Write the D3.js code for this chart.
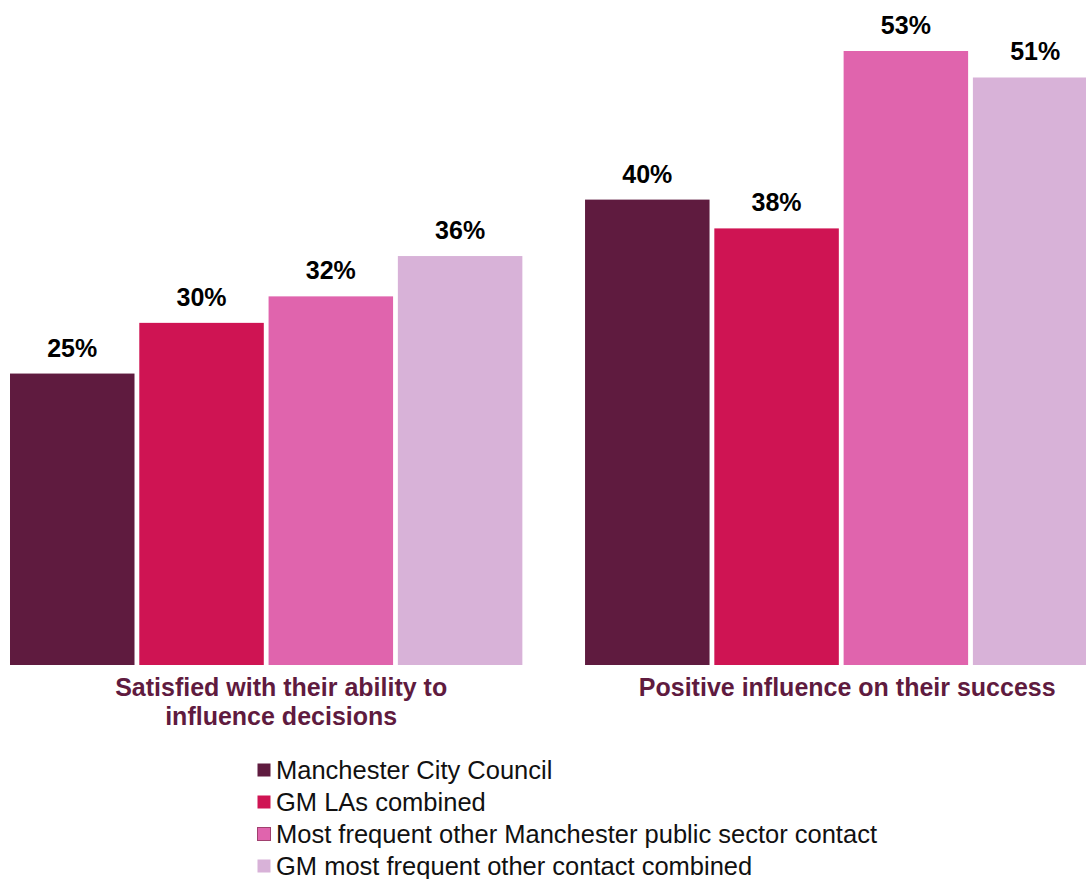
<!DOCTYPE html>
<html><head><meta charset="utf-8">
<script src="https://cdn.jsdelivr.net/npm/d3@7"></script>
<style>body{margin:0;background:#fff}svg{display:block}</style>
</head><body>
<svg id="chart" width="1086" height="879"></svg>
<script>
const categories = ["Satisfied with their ability to influence decisions", "Positive influence on their success"];
const categoryLines = [["Satisfied with their ability to", "influence decisions"], ["Positive influence on their success"]];
const seriesNames = ["Manchester City Council", "GM LAs combined", "Most frequent other Manchester public sector contact", "GM most frequent other contact combined"];
const mccValues = [25.3, 40.4];
const gmLaValues = [29.7, 37.9];
const mostFrequentValues = [32.0, 53.3];
const gmMostFrequentValues = [35.5, 51.0];
const seriesValues = [mccValues, gmLaValues, mostFrequentValues, gmMostFrequentValues];
const colors = ["#5f1b3f", "#cf1453", "#e064ad", "#d8b2d8"];

const svg = d3.select("#chart");
const baseline = 665;
const y = d3.scaleLinear().domain([0, 53.3]).range([baseline, 51]);
const x0 = d3.scaleBand().domain(categories).range([10, 1097.4]).paddingInner(0.109).paddingOuter(0);
const x1 = d3.scaleBand().domain(seriesNames).range([0, x0.bandwidth()]).paddingInner(0.037).paddingOuter(0);

const data = [];
categories.forEach((c, ci) => seriesNames.forEach((s, si) => data.push({c, ci, s, si, v: seriesValues[si][ci]})));

svg.append("g").selectAll("rect").data(data).join("rect")
  .attr("x", d => x0(d.c) + x1(d.s))
  .attr("y", d => y(d.v))
  .attr("width", x1.bandwidth())
  .attr("height", d => baseline - y(d.v))
  .attr("fill", d => colors[d.si]);

svg.append("g").selectAll("text").data(data).join("text")
  .attr("x", d => x0(d.c) + x1(d.s) + x1.bandwidth() / 2)
  .attr("y", d => y(d.v) - 17)
  .attr("text-anchor", "middle")
  .attr("font-family", "Liberation Sans, Arial, sans-serif")
  .attr("font-weight", "bold")
  .attr("font-size", 25)
  .attr("fill", "#000")
  .text(d => Math.round(d.v) + "%");

const catOffsets = [15, 6];
const cg = svg.append("g");
categories.forEach((c, ci) => {
  const cx = x0(c) + x0.bandwidth() / 2 + catOffsets[ci];
  const t = cg.append("text")
    .attr("x", cx)
    .attr("y", 696)
    .attr("text-anchor", "middle")
    .attr("font-family", "Liberation Sans, Arial, sans-serif")
    .attr("font-weight", "bold")
    .attr("font-size", 25)
    .attr("fill", "#5f1b3f");
  categoryLines[ci].forEach((line, li) => {
    t.append("tspan").attr("x", cx).attr("dy", li === 0 ? 0 : 29).text(line);
  });
});

const legend = svg.append("g");
seriesNames.forEach((s, i) => {
  const yy = 770 + i * 32;
  legend.append("rect").attr("x", 257.5).attr("y", yy - 6.5).attr("width", 13).attr("height", 13)
    .attr("fill", colors[i]).attr("stroke", i === 2 ? "#a0406e" : "none").attr("stroke-width", 1);
  legend.append("text").attr("x", 276).attr("y", yy + 9)
    .attr("font-family", "Liberation Sans, Arial, sans-serif")
    .attr("font-size", 25.5).attr("fill", "#111").text(s);
});
</script>
</body></html>
